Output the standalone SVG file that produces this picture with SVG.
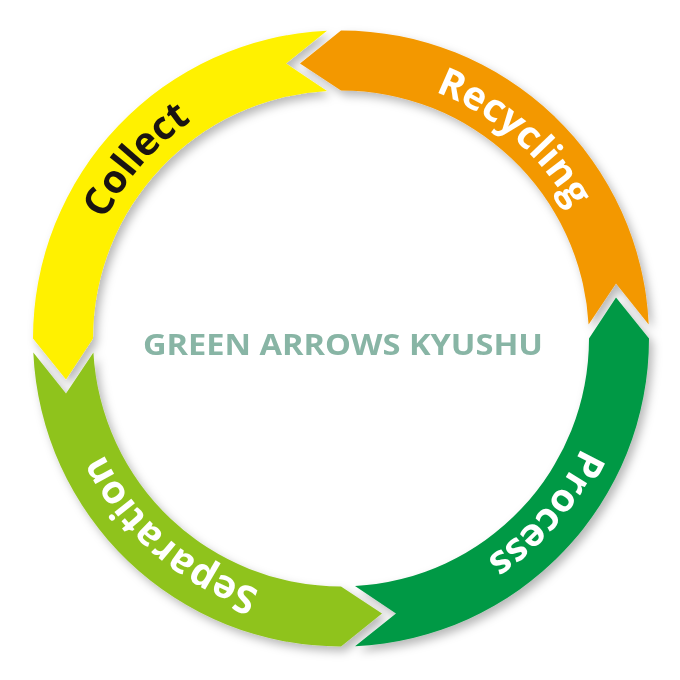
<svg xmlns="http://www.w3.org/2000/svg" width="680" height="680" viewBox="0 0 680 680">
<style>
.lbl{font-family:"Open Sans","Liberation Sans",sans-serif;font-weight:700;font-size:39px}
.w{fill:#ffffff}
.k{fill:#1a1311}
.title{font-family:"Open Sans","Liberation Sans",sans-serif;font-weight:700;font-size:29px;fill:#88b5a5}
</style>
<defs>
<filter id="sh" x="-10%" y="-10%" width="125%" height="125%">
<feGaussianBlur in="SourceAlpha" stdDeviation="5"/>
<feOffset dx="4" dy="5" result="b"/>
<feFlood flood-color="#000" flood-opacity="0.28"/>
<feComposite in2="b" operator="in"/>
<feMerge><feMergeNode/><feMergeNode in="SourceGraphic"/></feMerge>
</filter>
<path id="arrowShape" d="M341,30.5 A308,308 0 0 1 648.7,324.5 L616,283.5 L588.6,324.5 A248,248 0 0 0 341,90.5 L300,63.5 Z"/>
<path id="pRecycling" d="M173.8,134.2 A264,264 0 0 1 568,473.3"/>
<path id="pCollect" d="M135.6,504.3 A264,264 0 0 1 477.4,112.4"/>
<path id="pProcess" d="M544.7,170.6 A264,264 0 0 1 207,566"/>
<path id="pSeparation" d="M507.1,543.7 A264,264 0 0 1 114.7,202.5"/>
</defs>
<rect width="680" height="680" fill="#ffffff"/>
<g id="ring" filter="url(#sh)">
<g id="recycling"><use href="#arrowShape" fill="#f39800"/></g>
<g id="process"><use href="#arrowShape" fill="#009944" transform="rotate(90 341 338.5)"/></g>
<g id="separation"><use href="#arrowShape" fill="#8fc31f" transform="rotate(180 341 338.5)"/></g>
<g id="collect"><use href="#arrowShape" fill="#fff100" transform="rotate(270 341 338.5)"/></g>
</g>
<g id="labels">
<text class="lbl w"><textPath href="#pRecycling" startOffset="50%" text-anchor="middle">Recycling</textPath></text>
<text class="lbl k"><textPath href="#pCollect" startOffset="50%" text-anchor="middle">Collect</textPath></text>
<text class="lbl w"><textPath href="#pProcess" startOffset="50%" text-anchor="middle">Process</textPath></text>
<text class="lbl w"><textPath href="#pSeparation" startOffset="50%" text-anchor="middle">Separation</textPath></text>
</g>
<g id="center">
<text class="title" x="343" y="355" text-anchor="middle" textLength="400" lengthAdjust="spacingAndGlyphs">GREEN ARROWS KYUSHU</text>
</g>
</svg>
